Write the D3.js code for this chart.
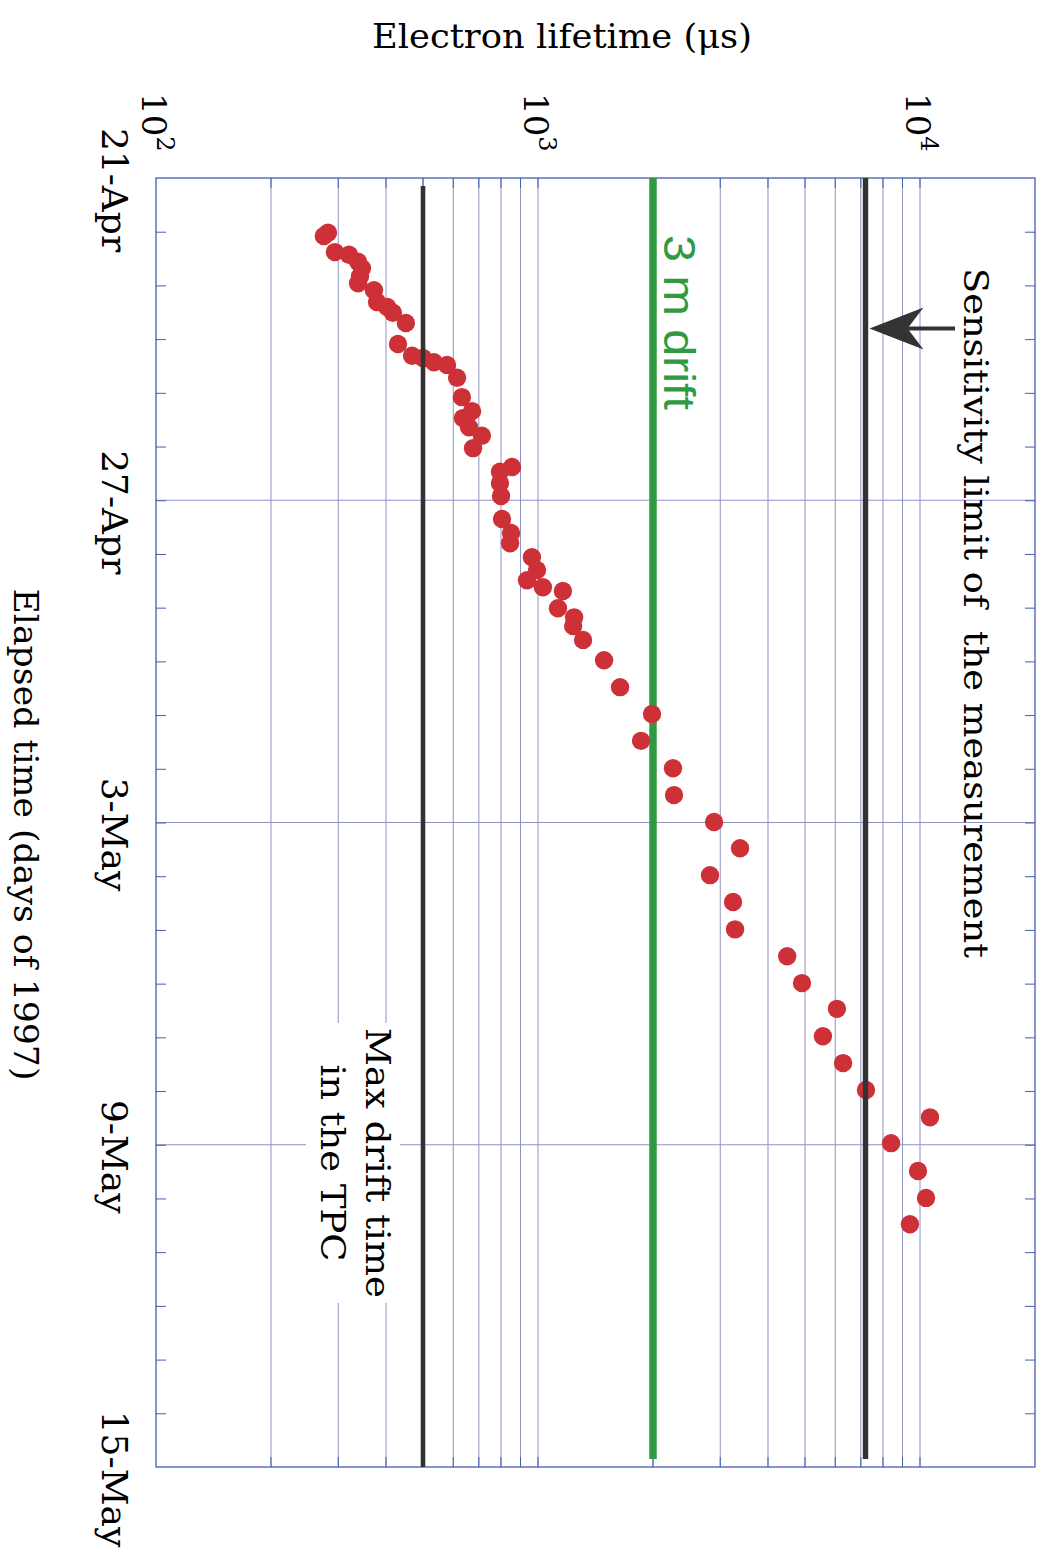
<!DOCTYPE html>
<html>
<head>
<meta charset="utf-8">
<script src="https://cdn.jsdelivr.net/npm/d3@7"></script>
<style>
body { margin: 0; background: #fff; }
</style>
</head>
<body>
<div id="chart"></div>
<script>
// elapsed days since 21-Apr-1997 and measured electron lifetime (us)
var days = [1.02, 1.08, 1.38, 1.43, 1.56, 1.68, 1.83, 1.96, 2.09, 2.31, 2.40, 2.51, 2.70, 3.09, 3.31, 3.35,
    3.43, 3.48, 3.72, 4.08, 4.34, 4.47, 4.64, 4.80, 5.03, 5.38, 5.47, 5.68, 5.92, 6.35, 6.61, 6.80,
    7.06, 7.30, 7.49, 7.62, 7.69, 8.01, 8.18, 8.34, 8.60, 8.98, 9.48, 9.98, 10.48, 10.99, 11.49, 11.99,
    12.48, 12.98, 13.48, 13.99, 14.49, 14.99, 15.47, 15.98, 16.48, 16.98, 17.49, 17.97, 18.49, 18.99, 19.48];
var lifetime = [282, 275, 294, 320, 338, 346, 342, 338, 372, 379, 403, 417, 451, 430, 468, 500,
    534, 578, 614, 632, 672, 636, 660, 713, 676, 855, 795, 795, 800, 805, 850, 845,
    964, 994, 936, 1030, 1162, 1128, 1243, 1236, 1312, 1489, 1640, 1988, 1861, 2256, 2270, 2890,
    3380, 2820, 3240, 3280, 4490, 4910, 6060, 5570, 6290, 7220, 10620, 8400, 9880, 10370, 9410];

var dateTicks = [0, 6, 12, 18, 24];
var dateLabels = ["21-Apr", "27-Apr", "3-May", "9-May", "15-May"];
var decadeTicks = [100, 1000, 10000];
var decadeExp = ["2", "3", "4"];

var maxDrift = 500;      // max drift time in the TPC
var threeMetre = 2000;   // 3 m drift
var sensitivity = 7200;  // sensitivity limit

var W = 1042, H = 1565;
var pl = 156, pr = 1035, pt = 178, pb = 1467;
var serif = "'DejaVu Serif', serif";
var frame = "#3f5fb0";
var grid = "#8f92c6";

var svg = d3.select("#chart").append("svg")
    .attr("width", W)
    .attr("height", H);

var x = d3.scaleLog().domain([100, 20000]).range([pl, pr]);
var y = d3.scaleLinear().domain([0, 24]).range([pt, pb]);

var logTicks = x.ticks().filter(function (v) { return v > 100 && v < 20000; });

// grid
svg.append("g").selectAll("line").data(logTicks).enter().append("line")
    .attr("x1", function (d) { return x(d); })
    .attr("x2", function (d) { return x(d); })
    .attr("y1", pt).attr("y2", pb)
    .attr("stroke", grid).attr("stroke-width", 1);

svg.append("g").selectAll("line").data(dateTicks.slice(1, -1)).enter().append("line")
    .attr("x1", pl).attr("x2", pr)
    .attr("y1", function (d) { return y(d); })
    .attr("y2", function (d) { return y(d); })
    .attr("stroke", grid).attr("stroke-width", 1.2);

// small tick marks on the frame
svg.append("g").selectAll("line").data(logTicks).enter().append("line")
    .attr("x1", function (d) { return x(d); })
    .attr("x2", function (d) { return x(d); })
    .attr("y1", pb).attr("y2", pb - 10)
    .attr("stroke", frame);
svg.append("g").selectAll("line").data(logTicks).enter().append("line")
    .attr("x1", function (d) { return x(d); })
    .attr("x2", function (d) { return x(d); })
    .attr("y1", pt).attr("y2", pt + 10)
    .attr("stroke", frame);

var dayTicks = d3.range(1, 24);
svg.append("g")
    .attr("transform", "translate(" + pl + ",0)")
    .call(d3.axisRight(y).tickValues(dayTicks).tickSize(10).tickFormat(""))
    .call(function (g) { g.select(".domain").remove(); g.selectAll("line").attr("stroke", frame); });
svg.append("g")
    .attr("transform", "translate(" + pr + ",0)")
    .call(d3.axisLeft(y).tickValues(dayTicks).tickSize(10).tickFormat(""))
    .call(function (g) { g.select(".domain").remove(); g.selectAll("line").attr("stroke", frame); });

svg.append("rect")
    .attr("x", pl).attr("y", pt)
    .attr("width", pr - pl).attr("height", pb - pt)
    .attr("fill", "none").attr("stroke", frame).attr("stroke-width", 1.3);

// 3 m drift line (under the points)
svg.append("line")
    .attr("x1", x(threeMetre)).attr("x2", x(threeMetre))
    .attr("y1", y(0)).attr("y2", y(23.85))
    .attr("stroke", "#2f9a41").attr("stroke-width", 7.5);

// measurements
svg.append("g").selectAll("circle").data(days).enter().append("circle")
    .attr("cx", function (d, i) { return x(lifetime[i]); })
    .attr("cy", function (d) { return y(d); })
    .attr("r", 9.2)
    .attr("fill", "#cd3137");

// black reference lines (over the points)
svg.append("line")
    .attr("x1", x(maxDrift)).attr("x2", x(maxDrift))
    .attr("y1", y(0.15)).attr("y2", y(24))
    .attr("stroke", "#333").attr("stroke-width", 4.6);
svg.append("line")
    .attr("x1", x(sensitivity)).attr("x2", x(sensitivity))
    .attr("y1", y(0)).attr("y2", y(23.85))
    .attr("stroke", "#333").attr("stroke-width", 5.4);

// tick labels
var dec = svg.append("g").selectAll("text").data(decadeTicks).enter().append("text")
    .attr("transform", function (d) { return "translate(" + (x(d) - 14) + ",93) rotate(90)"; })
    .attr("font-family", serif).attr("font-size", 34).attr("fill", "#000");
dec.append("tspan").text("10");
dec.append("tspan").attr("dy", -15).attr("font-size", 24)
    .text(function (d, i) { return decadeExp[i]; });

svg.append("g").selectAll("text").data(dateTicks).enter().append("text")
    .attr("transform", function (d) { return "translate(102," + (y(d) + 12) + ") rotate(90)"; })
    .attr("text-anchor", "middle")
    .attr("font-family", serif).attr("font-size", 36).attr("fill", "#000")
    .text(function (d, i) { return dateLabels[i]; });

// axis titles
svg.append("text")
    .attr("x", 562).attr("y", 48)
    .attr("text-anchor", "middle")
    .attr("font-family", serif).attr("font-size", 34)
    .attr("textLength", 380).attr("lengthAdjust", "spacingAndGlyphs")
    .text("Electron lifetime (\u03bcs)");

svg.append("text")
    .attr("transform", "translate(14," + ((pt + pb) / 2 + 12) + ") rotate(90)")
    .attr("text-anchor", "middle")
    .attr("font-family", serif).attr("font-size", 34)
    .attr("textLength", 492).attr("lengthAdjust", "spacingAndGlyphs")
    .text("Elapsed time (days of 1997)");

// annotations
svg.append("text")
    .attr("transform", "translate(" + (x(threeMetre) + 11) + "," + 235 + ") rotate(90)")
    .attr("font-family", "'Liberation Sans', Arial, sans-serif").attr("font-size", 44)
    .attr("fill", "#2f9a41")
    .attr("textLength", 175).attr("lengthAdjust", "spacingAndGlyphs")
    .text("3 m drift");

svg.append("text")
    .attr("transform", "translate(964,268) rotate(90)")
    .attr("font-family", serif).attr("font-size", 34)
    .style("white-space", "pre")
    .attr("textLength", 690).attr("lengthAdjust", "spacingAndGlyphs")
    .text("Sensitivity limit of  the measurement");

var ay = y(2.8), tip = x(sensitivity) + 4;
svg.append("line")
    .attr("x1", tip + 36).attr("x2", 955)
    .attr("y1", ay).attr("y2", ay)
    .attr("stroke", "#333").attr("stroke-width", 4);
svg.append("path")
    .attr("d", "M" + tip + "," + ay + " L" + (tip + 54) + "," + (ay - 21) +
        " L" + (tip + 38) + "," + ay + " L" + (tip + 54) + "," + (ay + 21) + " Z")
    .attr("fill", "#333");

svg.append("rect")
    .attr("x", 306).attr("y", 1023)
    .attr("width", 94).attr("height", 280)
    .attr("fill", "#fff");
svg.append("text")
    .attr("transform", "translate(366,1163) rotate(90)")
    .attr("text-anchor", "middle")
    .attr("font-family", serif).attr("font-size", 34)
    .attr("textLength", 270).attr("lengthAdjust", "spacingAndGlyphs")
    .text("Max drift time");
svg.append("text")
    .attr("transform", "translate(321,1163) rotate(90)")
    .attr("text-anchor", "middle")
    .attr("font-family", serif).attr("font-size", 34)
    .attr("textLength", 197).attr("lengthAdjust", "spacingAndGlyphs")
    .text("in the TPC");
</script>
</body>
</html>
